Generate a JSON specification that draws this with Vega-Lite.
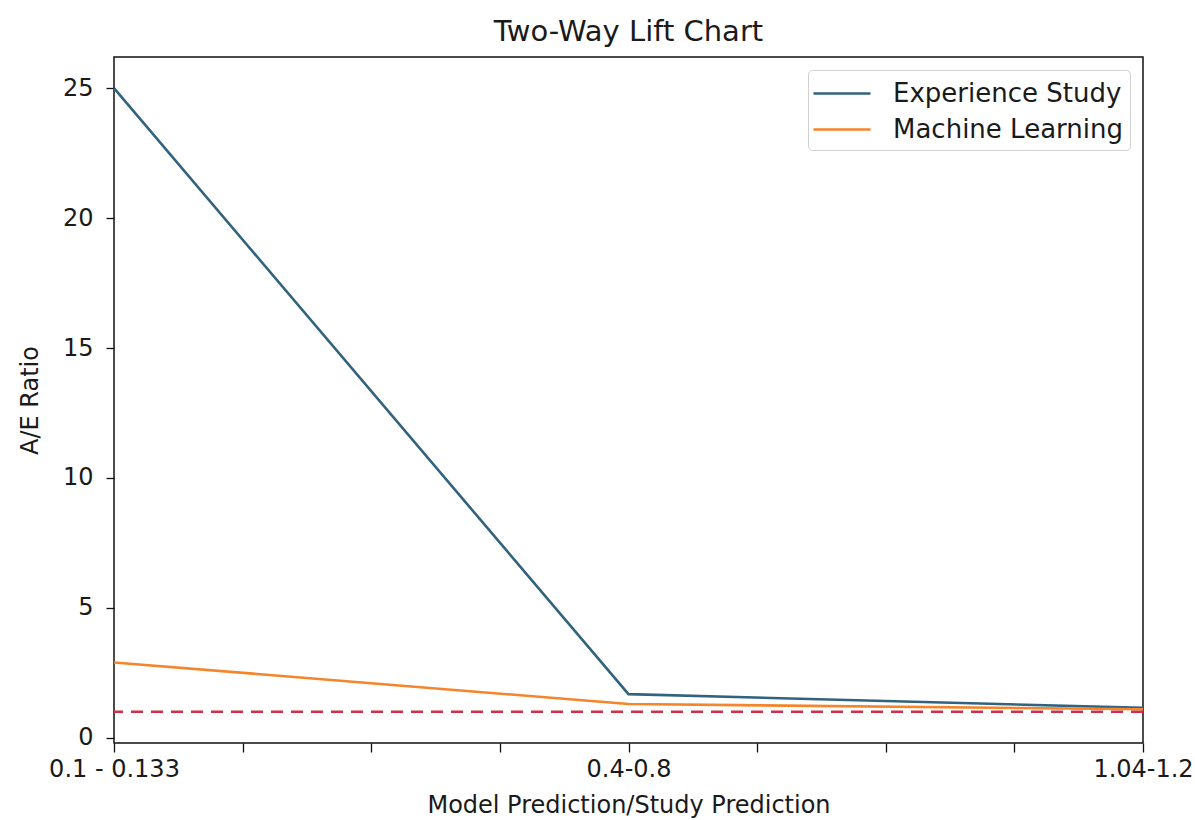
{
  "$schema": "https://vega.github.io/schema/vega-lite/v6.json",
  "autosize": "none",
  "width": 1029,
  "height": 686,
  "padding": {"left": 114, "top": 57, "right": 52, "bottom": 77},
  "background": "white",
  "config": {
    "font": "DejaVu Sans",
    "view": {"stroke": "#111111", "strokeWidth": 1.5},
    "axis": {"grid": false, "domain": false, "tickColor": "#111111", "tickWidth": 1.3, "tickSize": 9, "labelFont": "DejaVu Sans", "labelFontSize": 24, "labelColor": "#1a1a1a", "titleFont": "DejaVu Sans", "titleFontSize": 24, "titleFontWeight": "normal", "titleColor": "#1a1a1a"},
    "legend": {"labelFont": "DejaVu Sans", "labelFontSize": 26, "labelColor": "#1a1a1a"}
  },
  "title": {"text": "Two-Way Lift Chart", "fontSize": 29, "fontWeight": "normal", "font": "DejaVu Sans", "color": "#1a1a1a", "anchor": "middle", "offset": 10},
  "layer": [
    {
      "data": {"values": [
        {"x": 0, "series": "Experience Study", "ratio": 25.0},
        {"x": 4, "series": "Experience Study", "ratio": 1.68},
        {"x": 8, "series": "Experience Study", "ratio": 1.15},
        {"x": 0, "series": "Machine Learning", "ratio": 2.9},
        {"x": 4, "series": "Machine Learning", "ratio": 1.3},
        {"x": 8, "series": "Machine Learning", "ratio": 1.1}
      ]},
      "mark": {"type": "line", "strokeWidth": 2.6},
      "encoding": {
        "x": {"field": "x", "type": "quantitative", "scale": {"domain": [0, 8], "nice": false, "zero": false},
          "axis": {"values": [0, 1, 2, 3, 4, 5, 6, 7, 8], "labelExpr": "datum.value == 0 ? '0.1 - 0.133' : datum.value == 4 ? '0.4-0.8' : datum.value == 8 ? '1.04-1.2' : ''", "labelFlush": false, "labelOverlap": false, "labelPadding": 5, "title": "Model Prediction/Study Prediction", "titlePadding": 12}},
        "y": {"field": "ratio", "type": "quantitative", "scale": {"domain": [-0.2, 26.2], "nice": false, "zero": false},
          "axis": {"values": [0, 5, 10, 15, 20, 25], "tickSize": 8, "labelPadding": 13, "title": "A/E Ratio", "titlePadding": 20}},
        "color": {"field": "series", "type": "nominal",
          "scale": {"domain": ["Experience Study", "Machine Learning"], "range": ["#31637f", "#f5842a"]},
          "legend": {"title": null, "orient": "top-right", "offset": 13, "symbolType": "M-1.2,0H2.6", "symbolSize": 900, "symbolStrokeWidth": 2.6, "labelOffset": 45, "rowPadding": 6, "padding": 7, "strokeColor": "#d0d0d0", "fillColor": "white", "cornerRadius": 4, "labelLimit": 400}}
      }
    },
    {
      "data": {"values": [{"ref": 1}]},
      "mark": {"type": "rule", "color": "#d03048", "strokeWidth": 2.6, "strokeDash": [12, 8]},
      "encoding": {"y": {"field": "ref", "type": "quantitative"}}
    }
  ]
}
